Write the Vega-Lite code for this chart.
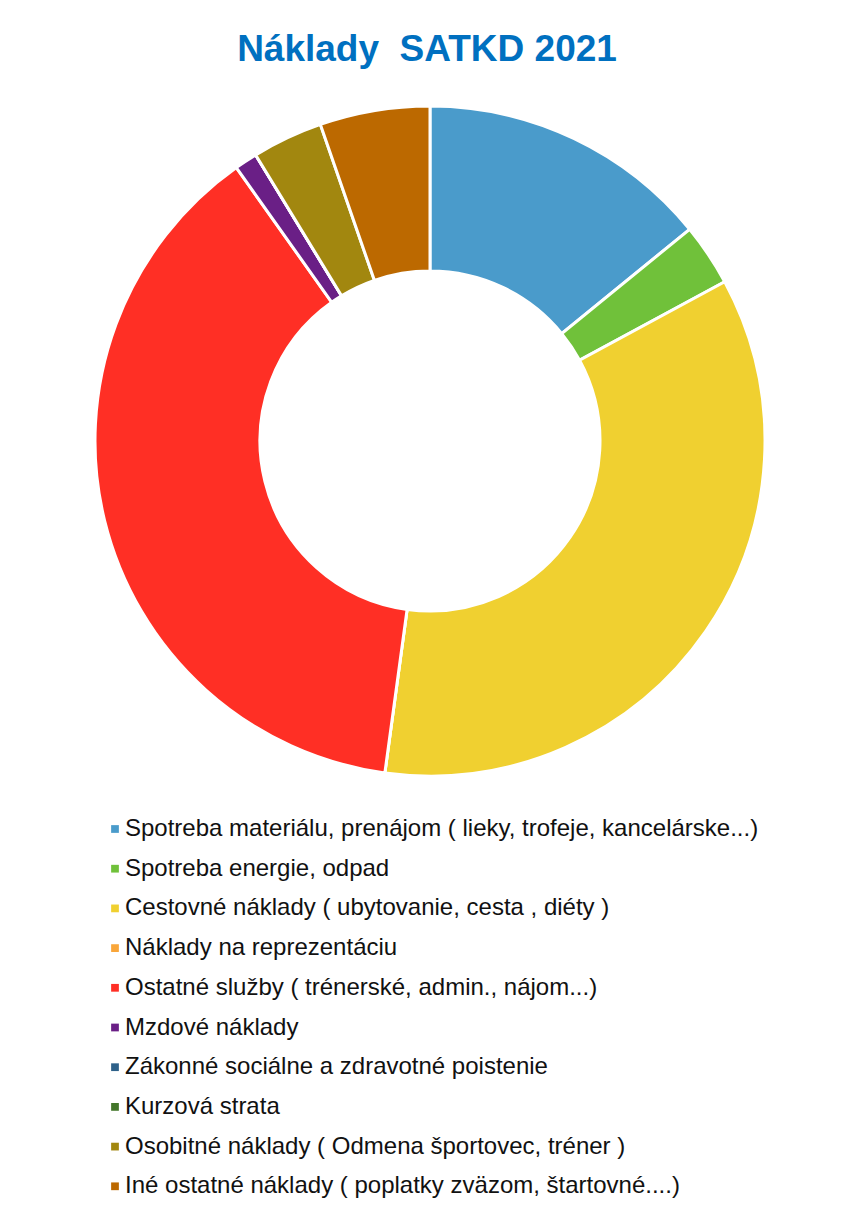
{
  "$schema": "https://vega.github.io/schema/vega-lite/v6.json",
  "autosize": "none",
  "width": 840,
  "height": 702,
  "padding": {"left": 10, "top": 90, "right": 0, "bottom": 417},
  "background": "white",
  "title": {
    "text": "Náklady\u00a0 SATKD 2021",
    "font": "Liberation Sans",
    "fontSize": 37,
    "fontWeight": "bold",
    "color": "#0070C0",
    "anchor": "middle",
    "frame": "group",
    "baseline": "alphabetic",
    "offset": -8,
    "dx": -3
  },
  "data": {
    "values": [
      {"i": 1, "kategoria": "Spotreba materiálu, prenájom ( lieky, trofeje, kancelárske...)", "podiel": 14.1},
      {"i": 2, "kategoria": "Spotreba energie, odpad", "podiel": 3.0},
      {"i": 3, "kategoria": "Cestovné náklady ( ubytovanie, cesta , diéty )", "podiel": 35.0},
      {"i": 4, "kategoria": "Náklady na reprezentáciu", "podiel": 0},
      {"i": 5, "kategoria": "Ostatné služby ( trénerské, admin., nájom...)", "podiel": 38.0},
      {"i": 6, "kategoria": "Mzdové náklady", "podiel": 1.1},
      {"i": 7, "kategoria": "Zákonné sociálne a zdravotné poistenie", "podiel": 0},
      {"i": 8, "kategoria": "Kurzová strata", "podiel": 0},
      {"i": 9, "kategoria": "Osobitné náklady ( Odmena športovec, tréner )", "podiel": 3.4},
      {"i": 10, "kategoria": "Iné ostatné náklady ( poplatky zväzom, štartovné....)", "podiel": 5.3}
    ]
  },
  "mark": {"type": "arc", "outerRadius": 335, "innerRadius": 170, "stroke": "white", "strokeWidth": 3},
  "encoding": {
    "theta": {"field": "podiel", "type": "quantitative", "stack": true},
    "order": {"field": "i", "type": "quantitative"},
    "color": {
      "field": "kategoria",
      "type": "nominal",
      "scale": {
        "domain": [
          "Spotreba materiálu, prenájom ( lieky, trofeje, kancelárske...)",
          "Spotreba energie, odpad",
          "Cestovné náklady ( ubytovanie, cesta , diéty )",
          "Náklady na reprezentáciu",
          "Ostatné služby ( trénerské, admin., nájom...)",
          "Mzdové náklady",
          "Zákonné sociálne a zdravotné poistenie",
          "Kurzová strata",
          "Osobitné náklady ( Odmena športovec, tréner )",
          "Iné ostatné náklady ( poplatky zväzom, štartovné....)"
        ],
        "range": ["#4A9BCB", "#70C13A", "#F0D030", "#F9A63A", "#FF2F25", "#6A1F86", "#2E6189", "#43762A", "#A2870F", "#BC6900"]
      },
      "legend": {
        "title": null,
        "orient": "none",
        "legendX": 93,
        "legendY": 727,
        "symbolType": "square",
        "symbolSize": 60,
        "symbolStrokeWidth": 0,
        "labelFont": "Liberation Sans",
        "labelFontSize": 24,
        "labelColor": "#111111",
        "labelOffset": -2,
        "labelLimit": 0,
        "rowPadding": 15.7,
        "padding": 0
      }
    }
  },
  "config": {"view": {"stroke": null}}
}
